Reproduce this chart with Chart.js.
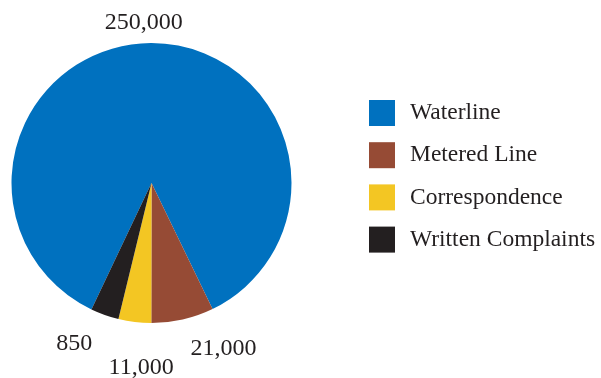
<!DOCTYPE html>
<html>
<head>
<meta charset="utf-8">
<script src="https://cdn.jsdelivr.net/npm/chart.js@4/dist/chart.umd.min.js"></script>
<style>
  html, body { margin: 0; padding: 0; background: #fff; }
  #wrap { width: 601px; height: 378px; position: relative; }
</style>
</head>
<body>
<div id="wrap"><canvas id="pieChart"></canvas></div>
<script>
const categories = ['Waterline', 'Metered Line', 'Correspondence', 'Written Complaints'];
// slice sizes as drawn in the original (the "850" slice is drawn much wider than its value)
const sliceValues = [250000, 21000, 11000, 9500];
const valueLabels = ['250,000', '21,000', '11,000', '850'];
const colors = ['#0071bf', '#964b35', '#f3c623', '#231f20'];

const FONT = '"Liberation Serif", "DejaVu Serif", serif';
const TEXT_COLOR = '#231f20';

// nudges for the value labels, relative to the outer edge at each slice's middle
const labelNudge = [[-7, 2], [36, 8], [9, 24], [-23, 8]];

const valueLabelPlugin = {
    id: 'valueLabels',
    afterDatasetsDraw(chart) {
        const c = chart.ctx;
        const arcs = chart.getDatasetMeta(0).data;
        c.save();
        c.font = '24px ' + FONT;
        c.fillStyle = TEXT_COLOR;
        c.textAlign = 'center';
        c.textBaseline = 'middle';
        arcs.forEach((arc, i) => {
            const p = arc.getProps(['x', 'y', 'startAngle', 'endAngle', 'outerRadius'], true);
            const mid = (p.startAngle + p.endAngle) / 2;
            const r = p.outerRadius + 22;
            const x = p.x + Math.cos(mid) * r + labelNudge[i][0];
            const y = p.y + Math.sin(mid) * r + labelNudge[i][1];
            c.fillText(valueLabels[i], x, y);
        });
        c.restore();
    }
};

const legendPlugin = {
    id: 'sideLegend',
    afterDraw(chart) {
        const c = chart.ctx;
        c.save();
        c.font = '23.5px ' + FONT;
        c.textBaseline = 'middle';
        categories.forEach((name, i) => {
            const top = 100 + i * 42.2;
            c.fillStyle = colors[i];
            c.fillRect(369, top, 26, 26);
            c.fillStyle = TEXT_COLOR;
            c.fillText(name, 410, top + 13);
        });
        c.restore();
    }
};

const ctx = document.getElementById('pieChart').getContext('2d');
const pieChart = new Chart(ctx, {
    type: 'pie',
    data: {
        labels: categories,
        datasets: [{
            data: sliceValues,
            backgroundColor: colors,
            borderWidth: 0
        }]
    },
    options: {
        responsive: true,
        maintainAspectRatio: false,
        animation: false,
        rotation: 205.4,
        layout: {
            padding: { top: 43, bottom: 55, left: 11.5, right: 309.5 }
        },
        plugins: {
            legend: { display: false },
            tooltip: { enabled: false }
        }
    },
    plugins: [valueLabelPlugin, legendPlugin]
});
</script>
</body>
</html>
